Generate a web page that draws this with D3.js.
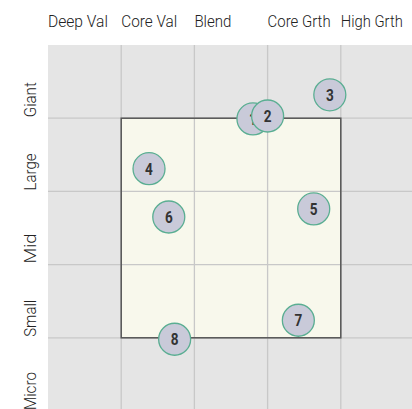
<!DOCTYPE html>
<html><head><meta charset="utf-8">
<script src="https://cdn.jsdelivr.net/npm/d3@7"></script>
<style>body{margin:0;background:#fff;overflow:hidden}svg{display:block}</style>
</head><body>
<svg id="c" width="412" height="409"></svg>
<script>
const styleLabels = ["Deep Val","Core Val","Blend","Core Grth","High Grth"];
const styleLabelWidths = [60,56,37,63,62];
const sizeLabels = ["Giant","Large","Mid","Small","Micro"];
const sizeLabelWidths = [35,37,30,37,38];
const ids   = [1,2,3,4,5,6,7,8];
const xVals = [2.80,3.00,3.85,1.38,3.63,1.65,3.42,1.73];
const yVals = [3.99,4.03,4.32,3.31,2.76,2.65,1.24,0.98];
const box = {x0:1, x1:4, y0:1, y1:4};

const svg = d3.select("#c");
const L = 48, T = 45, S = 366;
const x = d3.scaleLinear().domain([0,5]).range([L, L+S]);
const y = d3.scaleLinear().domain([0,5]).range([T+S, T]);
const font = "Roboto, 'Liberation Sans', sans-serif";

svg.append("rect").attr("x",L).attr("y",T).attr("width",S).attr("height",S).attr("fill","#e5e5e5");
svg.append("rect").attr("x",x(box.x0)).attr("y",y(box.y1))
  .attr("width",x(box.x1)-x(box.x0)).attr("height",y(box.y0)-y(box.y1))
  .attr("fill","#f8f8ec");
const g = svg.append("g");
d3.range(1,5).forEach(i=>{
  g.append("line").attr("x1",x(i)).attr("x2",x(i)).attr("y1",T).attr("y2",T+S)
    .attr("stroke","#c8c8c8").attr("stroke-width",1.3);
  g.append("line").attr("y1",y(i)).attr("y2",y(i)).attr("x1",L).attr("x2",L+S)
    .attr("stroke","#c8c8c8").attr("stroke-width",1.3);
});
svg.append("rect").attr("x",x(box.x0)).attr("y",y(box.y1))
  .attr("width",x(box.x1)-x(box.x0)).attr("height",y(box.y0)-y(box.y1))
  .attr("fill","none").attr("stroke","#555").attr("stroke-width",1.5);

svg.selectAll("text.sl").data(styleLabels).enter().append("text")
  .attr("class","sl").attr("x",(d,i)=>x(i)).attr("y",27)
  .attr("font-family",font).attr("font-size",17).attr("font-weight",300).attr("fill","#222")
  .attr("textLength",(d,i)=>styleLabelWidths[i]).attr("lengthAdjust","spacingAndGlyphs")
  .text(d=>d);

svg.selectAll("text.zl").data(sizeLabels).enter().append("text")
  .attr("class","zl")
  .attr("transform",(d,i)=>`translate(36,${y(4-i)-1}) rotate(-90)`)
  .attr("font-family",font).attr("font-size",17).attr("font-weight",300).attr("fill","#222")
  .attr("textLength",(d,i)=>sizeLabelWidths[i]).attr("lengthAdjust","spacingAndGlyphs")
  .text(d=>d);

const b = svg.selectAll("g.b").data(ids).enter().append("g").attr("class","b")
  .attr("transform",(d,i)=>`translate(${x(xVals[i])},${y(yVals[i])})`);
b.append("circle").attr("r",16).attr("fill","#c9cad9").attr("stroke","#5aae92").attr("stroke-width",1.3);
b.append("text").attr("text-anchor","middle").attr("dy","0.37em")
  .attr("font-family",font).attr("font-weight","bold").attr("font-size",16).attr("fill","#333")
  .attr("transform","scale(0.85,1)")
  .text(d=>d);
</script>
</body></html>
